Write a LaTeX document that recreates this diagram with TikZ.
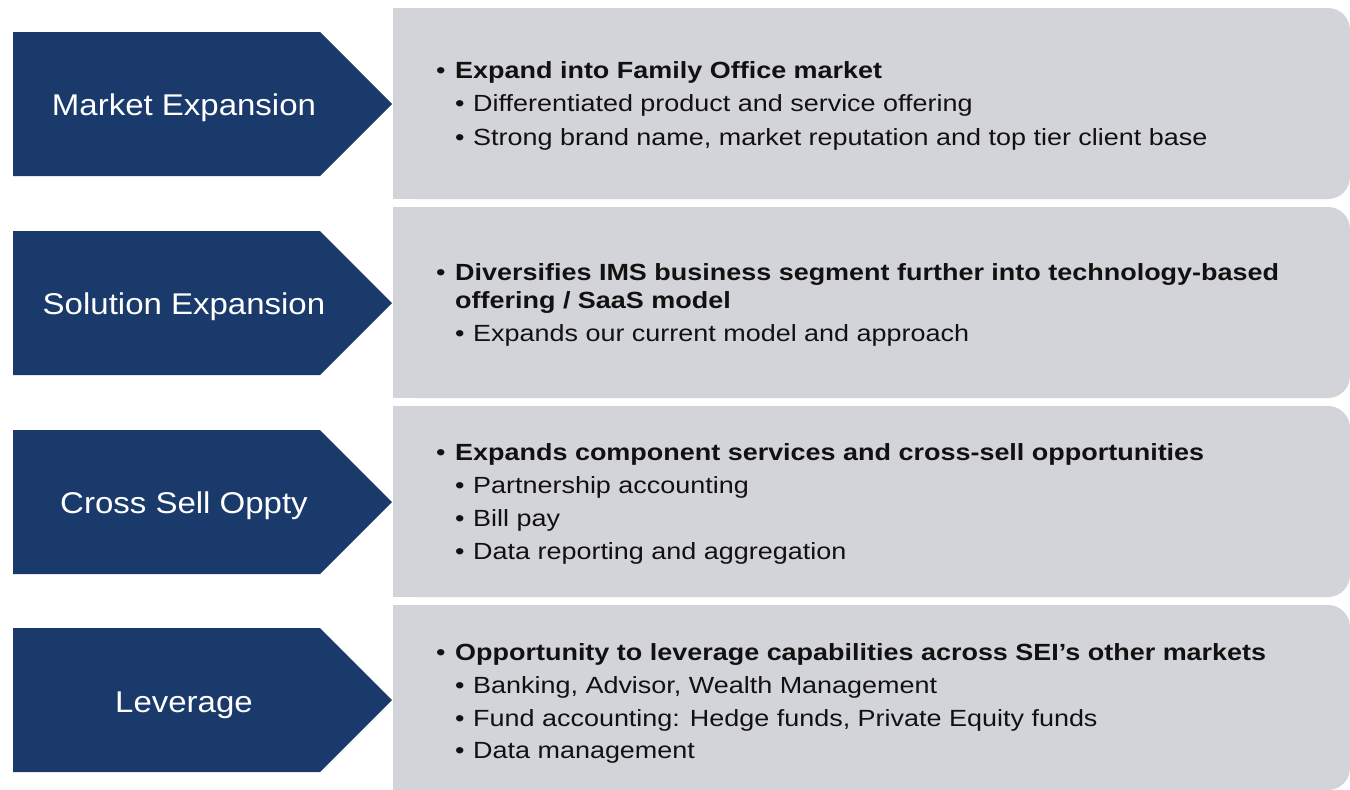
\documentclass[tikz,border=0pt]{standalone}
\usepackage{fontspec}
\setmainfont{Liberation Sans}
\usepackage{graphicx}
\definecolor{navy}{HTML}{1A3A6B}
\definecolor{panel}{HTML}{D3D4D9}
\definecolor{ink}{HTML}{111111}
\newcommand{\hs}[1]{\scalebox{1.152}[1]{#1}}
\newcommand{\leadline}[1]{\hs{\makebox[16.5pt][l]{•}\textbf{#1}}}
\newcommand{\subline}[1]{\hs{\makebox[15.6pt][l]{•}#1}}
\newcommand{\contline}[1]{\hs{\textbf{#1}}}
\newcommand{\chevtext}[1]{\scalebox{1.1}[1]{#1}}
\begin{document}
\begin{tikzpicture}[x=1pt,y=-1pt,
  chevron/.style={fill=navy},
  panelbox/.style={fill=panel},
  chevlabel/.style={font=\fontsize{30}{36}\selectfont, text=white, anchor=base, inner sep=0pt},
  body/.style={font=\fontsize{23.4}{28}\selectfont, text=ink, anchor=base west, inner sep=0pt}]
\useasboundingbox (0,0) rectangle (1350,790);
\fill[white] (0,0) rectangle (1350,790);

% panels
\foreach \t/\b in {8/199, 207/398, 406/597, 605/790}{
  \fill[panelbox, rounded corners=22pt] (393,\t) rectangle (1350,\b);
  \fill[panelbox] (393,\t) rectangle (900,\b);
}

% chevrons
\foreach \t in {32, 231, 430, 628}{
  \fill[chevron] (13,\t) -- (320,\t) -- (392,\t+72) -- (320,\t+144) -- (13,\t+144) -- cycle;
}

% chevron labels
\node[chevlabel] (c1) at (184,115.7) {\chevtext{Market Expansion}};
\node[chevlabel] (c2) at (184,314.7) {\chevtext{Solution Expansion}};
\node[chevlabel] (c3) at (184,513.7) {\chevtext{Cross Sell Oppty}};
\node[chevlabel] (c4) at (184,712) {\chevtext{Leverage}};

% panel 1
\node[body] (p1a) at (436,78.3) {\leadline{Expand into Family Office market}};
\node[body] (p1b) at (455,111.7) {\subline{Differentiated product and service offering}};
\node[body] (p1c) at (455,145) {\subline{Strong brand name, market reputation and top tier client base}};

% panel 2
\node[body] (p2a) at (436,280) {\leadline{Diversifies IMS business segment further into technology-based}};
\node[body] (p2b) at (455,308.3) {\contline{offering / SaaS model}};
\node[body] (p2c) at (455,341.7) {\subline{Expands our current model and approach}};

% panel 3
\node[body] (p3a) at (436,460.7) {\leadline{Expands component services and cross-sell opportunities}};
\node[body] (p3b) at (455,493.3) {\subline{Partnership accounting}};
\node[body] (p3c) at (455,526.7) {\subline{Bill pay}};
\node[body] (p3d) at (455,559.3) {\subline{Data reporting and aggregation}};

% panel 4
\node[body] (p4a) at (436,660.7) {\leadline{Opportunity to leverage capabilities across SEI’s other markets}};
\node[body] (p4b) at (455,693.3) {\subline{Banking, Advisor, Wealth Management}};
\node[body] (p4c) at (455,726.7) {\subline{Fund accounting: Hedge funds, Private Equity funds}};
\node[body] (p4d) at (455,758.3) {\subline{Data management}};
\end{tikzpicture}
\end{document}
